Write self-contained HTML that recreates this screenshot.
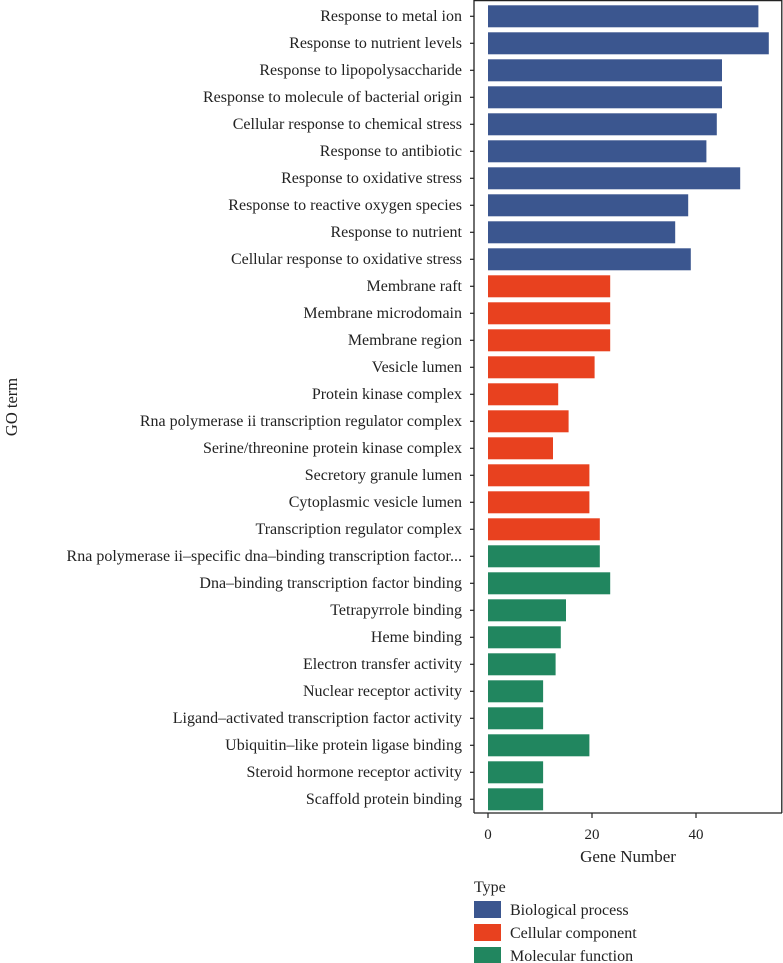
<!DOCTYPE html>
<html><head><meta charset="utf-8">
<style>
html,body{margin:0;padding:0;background:#fff;}
svg{display:block;font-family:"Liberation Serif",serif;}
</style></head>
<body>
<svg id="chart" width="783" height="963" viewBox="0 0 783 963" xmlns="http://www.w3.org/2000/svg">
<g id="bars"></g>
<g id="ylabels"></g>
<g id="xaxis"></g>
<line x1="474" y1="0" x2="474" y2="813" stroke="#222" stroke-width="1.3"/>
<line x1="474" y1="813" x2="782" y2="813" stroke="#222" stroke-width="1.3"/>
<line x1="474" y1="0.6" x2="782" y2="0.6" stroke="#222" stroke-width="1.3"/>
<line x1="781.8" y1="0" x2="781.8" y2="813" stroke="#222" stroke-width="1.3"/>
<text x="628" y="862" font-size="17" text-anchor="middle" fill="#222">Gene Number</text>
<text transform="translate(17,407) rotate(-90)" font-size="16.5" text-anchor="middle" fill="#222">GO term</text>
<g>
<text x="474" y="892" font-size="16" fill="#222">Type</text>
<rect x="474" y="901" width="27" height="17" fill="#3b568f"/>
<text x="510" y="915" font-size="16" fill="#222">Biological process</text>
<rect x="474" y="924" width="27" height="17" fill="#e8411f"/>
<text x="510" y="938" font-size="16" fill="#222">Cellular component</text>
<rect x="474" y="947" width="27" height="16" fill="#21865f"/>
<text x="510" y="961" font-size="16" fill="#222">Molecular function</text>
</g>
</svg>
<script>
const terms = ["Response to metal ion","Response to nutrient levels","Response to lipopolysaccharide","Response to molecule of bacterial origin","Cellular response to chemical stress","Response to antibiotic","Response to oxidative stress","Response to reactive oxygen species","Response to nutrient","Cellular response to oxidative stress","Membrane raft","Membrane microdomain","Membrane region","Vesicle lumen","Protein kinase complex","Rna polymerase ii transcription regulator complex","Serine/threonine protein kinase complex","Secretory granule lumen","Cytoplasmic vesicle lumen","Transcription regulator complex","Rna polymerase ii\u2013specific dna\u2013binding transcription factor...","Dna\u2013binding transcription factor binding","Tetrapyrrole binding","Heme binding","Electron transfer activity","Nuclear receptor activity","Ligand\u2013activated transcription factor activity","Ubiquitin\u2013like protein ligase binding","Steroid hormone receptor activity","Scaffold protein binding"];
const geneCounts = [52,54,45,45,44,42,48.5,38.5,36,39,23.5,23.5,23.5,20.5,13.5,15.5,12.5,19.5,19.5,21.5,21.5,23.5,15,14,13,10.6,10.6,19.5,10.6,10.6];
const types = ["BP","BP","BP","BP","BP","BP","BP","BP","BP","BP","CC","CC","CC","CC","CC","CC","CC","CC","CC","CC","MF","MF","MF","MF","MF","MF","MF","MF","MF","MF"];
const xTicks = [0,20,40];
const typeColors = {BP:"#3b568f",CC:"#e8411f",MF:"#21865f"};
const NS="http://www.w3.org/2000/svg";
function xScale(v){return 488 + v*5.2;}
function yCenter(i){return 16.3 + i*27;}
const bandH = 22;
const gB=document.getElementById('bars'), gL=document.getElementById('ylabels'), gX=document.getElementById('xaxis');
terms.forEach((t,i)=>{
  const r=document.createElementNS(NS,'rect');
  r.setAttribute('x',xScale(0));
  r.setAttribute('y',yCenter(i)-bandH/2);
  r.setAttribute('width',xScale(geneCounts[i])-xScale(0));
  r.setAttribute('height',bandH);
  r.setAttribute('fill',typeColors[types[i]]);
  
  
  gB.appendChild(r);
  const tk=document.createElementNS(NS,'line');
  tk.setAttribute('x1',470);tk.setAttribute('x2',474);
  tk.setAttribute('y1',yCenter(i));tk.setAttribute('y2',yCenter(i));
  tk.setAttribute('stroke','#222');tk.setAttribute('stroke-width','1.2');
  
  
  gL.appendChild(tk);
  const tx=document.createElementNS(NS,'text');
  tx.setAttribute('x',462);tx.setAttribute('y',yCenter(i)+4.5);
  tx.setAttribute('text-anchor','end');tx.setAttribute('font-size','16');tx.setAttribute('fill','#222');
  tx.textContent=t;
  
  
  gL.appendChild(tx);
});
xTicks.forEach(v=>{
  const tk=document.createElementNS(NS,'line');
  tk.setAttribute('x1',xScale(v));tk.setAttribute('x2',xScale(v));
  tk.setAttribute('y1',813);tk.setAttribute('y2',818);
  tk.setAttribute('stroke','#222');tk.setAttribute('stroke-width','1.2');
  
  
  gX.appendChild(tk);
  const tx=document.createElementNS(NS,'text');
  tx.setAttribute('x',xScale(v));tx.setAttribute('y',839);
  tx.setAttribute('text-anchor','middle');tx.setAttribute('font-size','15');tx.setAttribute('fill','#222');
  tx.textContent=v;
  
  
  gX.appendChild(tx);
});
</script>
</body></html>
